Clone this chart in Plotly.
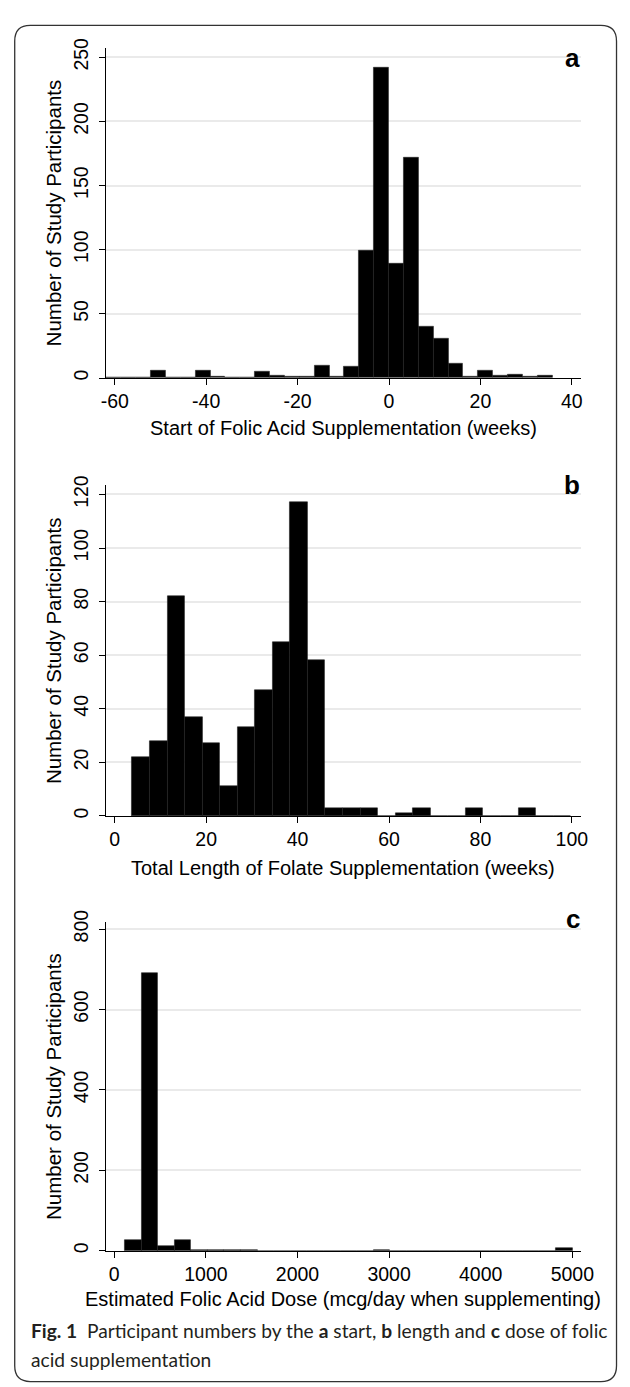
import plotly.graph_objects as go

# ---------------- data ----------------
# Panel a: start of folic acid supplementation (weeks)
a_bin_start = -61.9
a_bin_width = 3.255
a_counts = [0, 0, 0, 6, 0, 0, 6, 1, 0, 0, 5, 2, 1, 1, 10, 1, 9,
            99, 242, 89, 172, 40, 31, 11, 1, 6, 2, 3, 1, 2]
a_xticks = [-60, -40, -20, 0, 20, 40]
a_yticks = [0, 50, 100, 150, 200, 250]

# Panel b: total length of folate supplementation (weeks)
b_bin_start = 3.8
b_bin_width = 3.84
b_counts = [22, 28, 82, 37, 27, 11, 33, 47, 65, 117, 58, 3, 3, 3, 0,
            1, 3, 0, 0, 3, 0, 0, 3, 0, 0]
b_xticks = [0, 20, 40, 60, 80, 100]
b_yticks = [0, 20, 40, 60, 80, 100, 120]

# Panel c: estimated folic acid dose (mcg/day)
c_bin_start = 115
c_bin_width = 180.9
c_counts = [26, 690, 12, 26, 3, 3, 3, 3, 0, 0, 0, 0, 0, 0, 0, 2,
            0, 0, 0, 0, 0, 0, 0, 0, 0, 0, 7]
c_xticks = [0, 1000, 2000, 3000, 4000, 5000]
c_yticks = [0, 200, 400, 600, 800]

x_titles = ["Start of Folic Acid Supplementation (weeks)",
            "Total Length of Folate Supplementation (weeks)",
            "Estimated Folic Acid Dose (mcg/day when supplementing)"]
y_title = "Number of Study Participants"
panel_letters = ["a", "b", "c"]
caption_line1 = ("<b>Fig. 1</b>  Participant numbers by the <b>a</b> start, "
                 "<b>b</b> length and <b>c</b> dose of folic")
caption_line2 = "acid supplementation"

# ---------------- layout helpers ----------------
W, H = 630, 1387
FONT = "Liberation Sans, Arial, sans-serif"


def px(x):
    return x / W


def py(y):
    return 1 - y / H


def label(v):
    # hyphen-minus, as in the original Stata output
    return str(v).replace("\u2212", "-")


panels = [
    dict(counts=a_counts, start=a_bin_start, width=a_bin_width,
         xr=[-61.98, 41.93], yr=[0, 257.5], xt=a_xticks, yt=a_yticks,
         top=36, bottom=370, title_y=421, letter_y=47),
    dict(counts=b_counts, start=b_bin_start, width=b_bin_width,
         xr=[-1.98, 101.93], yr=[0, 123.5], xt=b_xticks, yt=b_yticks,
         top=478.3, bottom=812.7, title_y=865, letter_y=478),
    dict(counts=c_counts, start=c_bin_start, width=c_bin_width,
         xr=[-93, 5091], yr=[0, 817.5], xt=c_xticks, yt=c_yticks,
         top=920, bottom=1252.3, title_y=1301, letter_y=917),
]
LEFT, RIGHT = 103.7, 592.6

fig = go.Figure()
annotations = []
layout_axes = {}

for i, p in enumerate(panels):
    n = i + 1
    xa = "x" if n == 1 else f"x{n}"
    ya = "y" if n == 1 else f"y{n}"
    lefts = [p["start"] + k * p["width"] for k in range(len(p["counts"]))]
    fig.add_trace(go.Bar(
        x=lefts, y=p["counts"], width=[p["width"]] * len(p["counts"]),
        offset=0, marker=dict(color="black", line=dict(width=0.6, color="#222")),
        xaxis=xa, yaxis=ya, showlegend=False, hoverinfo="x+y"))

    xkey = "xaxis" if n == 1 else f"xaxis{n}"
    ykey = "yaxis" if n == 1 else f"yaxis{n}"
    layout_axes[xkey] = dict(
        domain=[px(LEFT), px(RIGHT)], range=p["xr"], anchor=ya,
        tickvals=p["xt"], ticktext=[label(v) for v in p["xt"]],
        ticks="outside", ticklen=6, tickwidth=1,
        tickcolor="black", showline=True, linecolor="black", linewidth=1,
        showgrid=False, zeroline=False,
        tickfont=dict(family=FONT, size=19.5, color="black"), fixedrange=True)
    layout_axes[ykey] = dict(
        domain=[py(p["bottom"]), py(p["top"])], range=p["yr"], anchor=xa,
        tickvals=p["yt"], ticktext=[label(v) for v in p["yt"]],
        ticks="outside", ticklen=6, tickwidth=1, ticklabelstandoff=3,
        tickcolor="black", showline=True, linecolor="black", linewidth=1,
        showgrid=True, gridcolor="#eaeaea", gridwidth=1.5, zeroline=False,
        tickangle=-90,
        tickfont=dict(family=FONT, size=19.5, color="black"), fixedrange=True)

    annotations.append(dict(
        text=x_titles[i], x=px((LEFT + RIGHT) / 2), y=py(p["title_y"]),
        xref="paper", yref="paper", xanchor="center", yanchor="middle",
        showarrow=False, font=dict(family=FONT, size=20, color="black")))
    annotations.append(dict(
        text=y_title, x=px(50), y=py((p["top"] + p["bottom"]) / 2),
        xref="paper", yref="paper", xanchor="center", yanchor="middle",
        textangle=-90, showarrow=False,
        font=dict(family=FONT, size=20.5, color="black")))
    annotations.append(dict(
        text=f"<b>{panel_letters[i]}</b>", x=px(594), y=py(p["letter_y"]),
        xref="paper", yref="paper", xanchor="right", yanchor="middle",
        showarrow=False, font=dict(family=FONT, size=26, color="black")))

# caption
for txt, yy in [(caption_line1, 1333), (caption_line2, 1362)]:
    annotations.append(dict(
        text=txt, x=px(25), y=py(yy), xref="paper", yref="paper",
        xanchor="left", yanchor="middle", showarrow=False,
        font=dict(family="Lato, sans-serif", size=19.2, color="#231f20")))

# rounded frame
L, R, T, B, r = 10, 629.5, 13.5, 1384.5, 16
path = (f"M {px(L + r)},{py(T)} L {px(R - r)},{py(T)} "
        f"Q {px(R)},{py(T)} {px(R)},{py(T + r)} "
        f"L {px(R)},{py(B - r)} Q {px(R)},{py(B)} {px(R - r)},{py(B)} "
        f"L {px(L + r)},{py(B)} Q {px(L)},{py(B)} {px(L)},{py(B - r)} "
        f"L {px(L)},{py(T + r)} Q {px(L)},{py(T)} {px(L + r)},{py(T)} Z")

fig.update_layout(
    width=W, height=H, margin=dict(l=0, r=0, t=0, b=0),
    paper_bgcolor="white", plot_bgcolor="white", bargap=0,
    annotations=annotations,
    shapes=[dict(type="path", path=path, xref="paper", yref="paper",
                 line=dict(color="#333333", width=1.3), layer="below")],
    **layout_axes)

fig.write_html(
    "out.html",
    config={"displayModeBar": False},
    post_script=("document.body.style.margin='0';"
                 "document.body.style.overflow='hidden';"
                 "document.documentElement.style.overflow='hidden';"))
